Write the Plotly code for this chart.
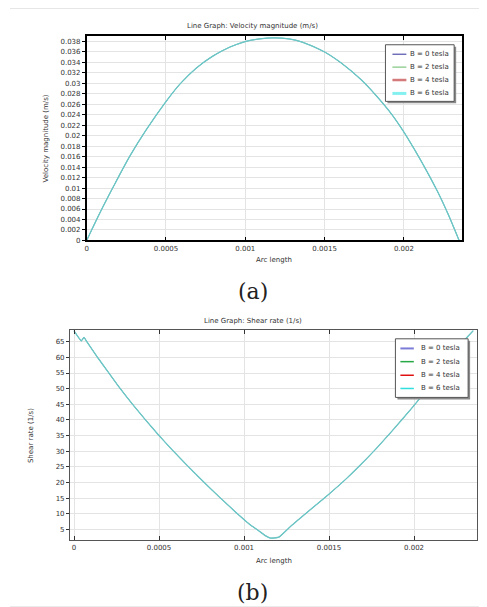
import plotly.graph_objects as go

W, H = 487, 607

field_labels = ["B = 0 tesla", "B = 2 tesla", "B = 4 tesla", "B = 6 tesla"]

# (a) velocity magnitude along the arc; the four field cases lie on top of each other
arc_a = [0, 0.0000837, 0.000167, 0.000272, 0.000377, 0.000502, 0.000586, 0.00069,
         0.000795, 0.0009, 0.001, 0.00109, 0.00118, 0.001274, 0.001358, 0.0015,
         0.001609, 0.001734, 0.00183, 0.001923, 0.002, 0.00207, 0.002143, 0.002216,
         0.002279, 0.002348]
vel = [0, 0.0053, 0.0102, 0.0161, 0.0212, 0.0266, 0.0298, 0.0329,
       0.0352, 0.0369, 0.0380, 0.0385, 0.0387, 0.0385, 0.0379, 0.0360,
       0.0338, 0.0306, 0.0275, 0.0241, 0.0207, 0.0172, 0.0133, 0.0091,
       0.0050, 0.0]

# (b) shear rate along the arc
arc_b = [0, 0.000043, 0.0000586, 0.000072, 0.000141, 0.000264, 0.000346, 0.000424,
         0.000492, 0.000576, 0.000668, 0.000766, 0.000854, 0.000951, 0.00104, 0.001088,
         0.001125, 0.001156, 0.001205, 0.001283, 0.001381, 0.001494, 0.001596, 0.001674,
         0.001772, 0.00187, 0.001992, 0.002045, 0.00215, 0.00225, 0.002299, 0.002348]
shear = [68.5, 65.3, 66.4, 65.3, 59.8, 50.6, 44.9, 39.8,
         35.5, 30.5, 25.3, 20.0, 15.4, 10.5, 6.3, 4.5,
         3.0, 2.2, 2.5, 6.4, 10.9, 16.0, 20.9, 25.0,
         30.5, 36.4, 44.1, 47.6, 54.7, 61.7, 65.6, 68.5]

x_ticks = [0, 0.0005, 0.001, 0.0015, 0.002]
x_ticktext = ["0", "0.0005", "0.001", "0.0015", "0.002"]
vel_ticks = [round(0.002 * i, 3) for i in range(20)]
vel_ticktext = [f"{v:g}" for v in vel_ticks]
shear_ticks = list(range(5, 70, 5))

FONT = "DejaVu Sans"
TXT = "#333333"

# all four curves coincide, so they all show as the same teal line
curve_col = "#6cc4c4"
curve_w = [0.5, 0.5, 0.5, 1.3]
# legend swatches for each panel
leg_a = [("#2e2e9a", 1), ("#66bb66", 1), ("#d47a7a", 2.5), ("#85f0f0", 3)]
leg_b = [("#7b7bd8", 2), ("#28a845", 1.5), ("#e01010", 1.5), ("#30dede", 1.5)]


def px(x):
    return x / W


def py(y):
    return 1 - y / H


fig = go.Figure()

for i, name in enumerate(field_labels):
    fig.add_trace(go.Scatter(x=arc_a, y=vel, mode="lines", name=name,
                             line=dict(color=curve_col, width=curve_w[i], shape="spline",
                                       smoothing=0.8),
                             xaxis="x", yaxis="y", showlegend=False))
    fig.add_trace(go.Scatter(x=arc_b, y=shear, mode="lines", name=name,
                             line=dict(color=curve_col, width=curve_w[i], shape="spline",
                                       smoothing=0.4),
                             xaxis="x2", yaxis="y2", showlegend=False))

tickfont = dict(family=FONT, size=7, color=TXT)

xcommon = dict(tickvals=x_ticks, ticktext=x_ticktext, ticks="inside", ticklen=4,
               mirror="ticks", showline=True, showgrid=True, gridcolor="#e4e4e4",
               zeroline=False, tickfont=tickfont)
ycommon = dict(ticks="outside", ticklen=3, mirror=True, showline=True, showgrid=True,
               gridcolor="#e4e4e4", zeroline=False, tickfont=tickfont)
yright = dict(side="right", ticks="inside", ticklen=3, showticklabels=False,
              showgrid=False, showline=False, zeroline=False)

fig.update_layout(
    width=W, height=H,
    margin=dict(l=0, r=0, t=0, b=0),
    paper_bgcolor="white", plot_bgcolor="white",
    showlegend=False,
    xaxis=dict(domain=[px(77), px(454)], range=[0, 0.002367], anchor="y",
               linecolor="black", linewidth=1.5, tickcolor="black", **xcommon),
    yaxis=dict(domain=[py(234), py(28.3)], range=[0, 0.03903], anchor="x",
               tickvals=vel_ticks, ticktext=vel_ticktext,
               linecolor="black", linewidth=1.5, tickcolor="black", **ycommon),
    yaxis3=dict(overlaying="y", anchor="x", range=[0, 0.03903], tickvals=vel_ticks,
                tickcolor="black", **yright),
    xaxis2=dict(domain=[px(60.3), px(469)], range=[-0.0000234, 0.002371], anchor="y2",
                linecolor="#555555", linewidth=1.2, tickcolor="#333333", **xcommon),
    yaxis2=dict(domain=[py(536), py(324)], range=[1.45, 68.8], anchor="x2",
                tickvals=shear_ticks, linecolor="#555555", linewidth=1.2,
                tickcolor="#333333", **ycommon),
    yaxis4=dict(overlaying="y2", anchor="x2", range=[1.45, 68.8], tickvals=shear_ticks,
                tickcolor="#333333", **yright),
)

ann = []


def text(x, y, s, size=7, angle=0, xanchor="center", family=FONT, color=TXT):
    ann.append(dict(x=px(x), y=py(y), xref="paper", yref="paper", text=s,
                    showarrow=False, xanchor=xanchor, yanchor="middle",
                    textangle=angle, font=dict(family=family, size=size, color=color)))


text(244, 18, "Line Graph: Velocity magnitude (m/s)")
text(265, 254, "Arc length")
text(36.5, 131, "Velocity magnitude (m/s)", angle=-90)
text(244, 285, "(a)", size=22, family="DejaVu Serif", color="#222222")

text(244, 315, "Line Graph: Shear rate (1/s)")
text(265, 557, "Arc length")
text(21, 430, "Shear rate (1/s)", angle=-90)
text(244, 588, "(b)", size=22, family="DejaVu Serif", color="#222222")

shapes = []


def legend_box(x0, y0, x1, y1, line_x0, line_x1, rows, text_x, styles):
    shapes.append(dict(type="rect", xref="paper", yref="paper",
                       x0=px(x0 + 2), x1=px(x1 + 2), y0=py(y1 + 2), y1=py(y0 + 2),
                       fillcolor="#8a8a8a", line=dict(width=0)))
    shapes.append(dict(type="rect", xref="paper", yref="paper",
                       x0=px(x0), x1=px(x1), y0=py(y1), y1=py(y0),
                       fillcolor="white", line=dict(color="#555555", width=1)))
    for (col, w), ry, lab in zip(styles, rows, field_labels):
        shapes.append(dict(type="line", xref="paper", yref="paper",
                           x0=px(line_x0), x1=px(line_x1), y0=py(ry), y1=py(ry),
                           line=dict(color=col, width=w)))
        text(text_x, ry, lab, xanchor="left")


legend_box(377, 37, 446, 94, 384, 398, [46.5, 59.5, 72.5, 86], 400, leg_a)
legend_box(387, 333, 460, 392, 392, 405.5, [342.7, 356, 369.7, 383], 411, leg_b)

# light frame of the scanned figure
shapes.append(dict(type="rect", xref="paper", yref="paper", x0=0, x1=1,
                   y0=py(607), y1=py(602), fillcolor="#ebebeb", line=dict(width=0)))
shapes.append(dict(type="line", xref="paper", yref="paper", x0=0, x1=1,
                   y0=py(0.5), y1=py(0.5), line=dict(color="#e6e6e6", width=1)))

fig.update_layout(annotations=ann, shapes=shapes)

fig.write_html("out.html")
